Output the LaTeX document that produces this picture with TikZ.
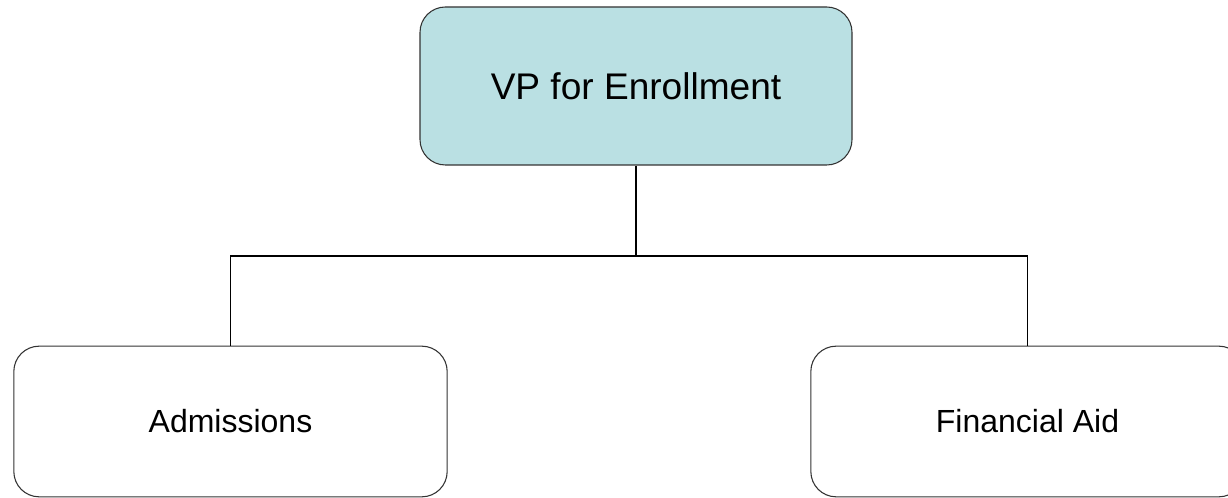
\documentclass[tikz,border=0pt]{standalone}
\usepackage{fontspec}
\setmainfont{Liberation Sans}
\usepackage{tikz}

\definecolor{vpblue}{RGB}{186,224,227}

\begin{document}
\begin{tikzpicture}[x=0.75pt,y=-0.75pt,
    unit/.style={draw=black!80, line width=0.8pt, rounded corners=19pt, fill=white, inner sep=0pt,
        minimum width=325pt, minimum height=113pt, font=\fontsize{24}{28}\selectfont}]
    \useasboundingbox (0,0) rectangle (1228,498);
    \node[unit, fill=vpblue, minimum width=324pt, minimum height=118.5pt, font=\fontsize{27.8}{32}\selectfont]
        (vp) at (636,86) {VP for Enrollment};
    \node[unit] (adm) at (230.5,421.5) {Admissions};
    \node[unit] (aid) at (1027.5,421.5) {Financial Aid};
    \coordinate (bus) at (636,256);
    \draw[line width=0.8pt] (vp.south) -- (bus);
    \draw[line width=0.8pt] (adm.north) |- (bus) -| (aid.north);
\end{tikzpicture}
\end{document}
